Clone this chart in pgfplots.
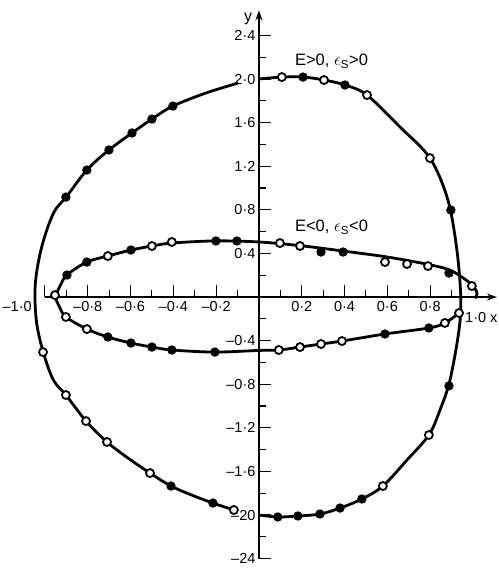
\documentclass[border=0pt]{standalone}
\usepackage{fontspec}
\setmainfont{Liberation Sans}
\usepackage{pgfplots}
\pgfplotsset{compat=1.18}
\usetikzlibrary{arrows.meta}

\begin{document}
\begin{tikzpicture}
\begin{axis}[
  x=214pt, y=109pt,
  axis lines=middle,
  xmin=-1.0, xmax=1.112, ymin=-2.4, ymax=2.63,
  clip=false,
  axis line style={line width=1.5pt, black},
  x axis line style={-{Stealth[length=10pt,width=7pt]}},
  y axis line style={-{Stealth[length=10pt,width=7pt]}},
  tick align=inside,
  major tick length=12pt, minor tick length=7pt,
  every tick/.style={line width=1.1pt, black},
  xtick={-1.0,-0.8,-0.6,-0.4,-0.2,0.2,0.4,0.6,0.8},
  xticklabels={,–0·8,–0·6,–0·4,–0·2,0·2,0·4,0·6,0·8},
  minor xtick={-0.9,-0.7,-0.5,-0.3,-0.1,0.1,0.3,0.5,0.7,0.9},
  ytick={-2.4,-2.0,-1.6,-1.2,-0.8,-0.4,0.4,0.8,1.2,1.6,2.0,2.4},
  yticklabels={–24,–20,–1·6,–1·2,–0·8,–0·4,0·4,0·8,1·2,1·6,2·0,2·4},
  minor ytick={-2.2,-1.8,-1.4,-1.0,-0.6,-0.2,0.2,0.6,1.0,1.4,1.8,2.2},
  every tick label/.append style={font=\fontsize{14.5}{16}\selectfont},
  xticklabel style={yshift=-1pt},
]
% frame of the figure
\path (axis cs:-1.210,2.725) rectangle (axis cs:1.121,-2.486);

% ---- E>0 branch: fitted curve ----
\addplot[line width=2.8pt, smooth, tension=0.55] coordinates {
  (-0.098,1.963) (-0.25,1.87) (-0.402,1.752) (-0.5,1.633) (-0.593,1.505)
  (-0.701,1.349) (-0.804,1.165) (-0.897,0.927) (-0.96,0.77) (-1.015,0.46)
  (-1.045,0.12) (-1.04,-0.22) (-1.008,-0.505) (-0.961,-0.76)
  (-0.902,-0.899) (-0.808,-1.138) (-0.710,-1.330) (-0.61,-1.48) (-0.509,-1.615)
  (-0.411,-1.734) (-0.31,-1.82) (-0.215,-1.890) (-0.117,-1.954)
};
\addplot[line width=2.8pt, smooth, tension=0.55] coordinates {
  (0,2.0) (0.107,2.018) (0.206,2.018) (0.304,1.991) (0.402,1.945)
  (0.505,1.853) (0.659,1.56) (0.799,1.275) (0.883,0.89) (0.925,0.431)
  (0.943,0.0) (0.935,-0.3) (0.893,-0.76) (0.846,-1.037) (0.794,-1.266)
  (0.692,-1.495) (0.579,-1.734) (0.481,-1.853) (0.379,-1.936) (0.285,-1.991)
  (0.182,-2.009) (0.088,-2.018) (0,-2.0)
};

% ---- E<0 branch: fitted curve ----
\addplot[line width=2.8pt, smooth, tension=0.55] coordinates {
  (-0.953,0.0) (-0.93,0.1) (-0.897,0.202) (-0.804,0.321) (-0.706,0.376)
  (-0.598,0.431) (-0.5,0.468) (-0.407,0.495) (-0.2,0.515) (0,0.505)
  (0.2,0.47) (0.4,0.42) (0.6,0.367) (0.8,0.295) (0.9,0.24) (0.985,0.13)
  (1.015,0.06) (1.018,0.015) (1.008,-0.01)
};
\addplot[line width=2.8pt, smooth, tension=0.55] coordinates {
  (-0.953,0.0) (-0.93,-0.1) (-0.902,-0.183) (-0.804,-0.294) (-0.706,-0.367)
  (-0.598,-0.422) (-0.5,-0.459) (-0.407,-0.486) (-0.206,-0.505) (0,-0.49)
  (0.093,-0.486) (0.192,-0.459) (0.29,-0.431) (0.388,-0.404) (0.589,-0.339)
  (0.794,-0.284) (0.869,-0.238) (0.935,-0.147)
};

% ---- measured points, solid ----
\addplot[only marks, mark=*, mark size=4pt,
  mark options={draw=black, fill=black, line width=1.3pt}] coordinates {
  (-0.902,0.917) (-0.804,1.165) (-0.701,1.349) (-0.593,1.505) (-0.5,1.633)
  (-0.402,1.752) (-0.411,-1.734) (-0.215,-1.890)
  (0.206,2.018) (0.402,1.945) (0.897,0.798)
  (0.888,-0.815) (0.481,-1.853) (0.379,-1.936) (0.285,-1.991) (0.182,-2.009)
  (0.088,-2.018)
  (-0.897,0.202) (-0.804,0.321) (-0.598,0.431) (-0.201,0.514) (-0.103,0.514)
  (0.290,0.413) (0.393,0.413) (0.888,0.220)
  (-0.706,-0.367) (-0.598,-0.422) (-0.5,-0.459) (-0.407,-0.486) (-0.206,-0.505)
  (0.589,-0.339) (0.794,-0.284)
};
% ---- measured points, open ----
\addplot[only marks, mark=*, mark size=4pt,
  mark options={draw=black, fill=white, line width=1.8pt}] coordinates {
  (-1.009,-0.505) (-0.902,-0.899) (-0.808,-1.138) (-0.710,-1.330)
  (-0.509,-1.615) (-0.117,-1.954)
  (0.107,2.018) (0.304,1.991) (0.505,1.853) (0.799,1.275)
  (0.794,-1.266) (0.579,-1.734)
  (-0.953,0.018) (-0.706,0.376) (-0.5,0.468) (-0.407,0.505) (0.098,0.495)
  (0.192,0.468) (0.589,0.321) (0.692,0.303) (0.790,0.284) (0.995,0.101)
  (-0.902,-0.183) (-0.804,-0.294) (0.093,-0.486) (0.192,-0.459) (0.290,-0.431)
  (0.388,-0.404) (0.869,-0.238) (0.935,-0.147)
};

% axis names and end labels
\node[inner sep=0pt, font=\fontsize{16}{18}\selectfont] at (axis cs:-0.05,2.55) {y};
\node[anchor=east, inner sep=0pt, font=\fontsize{14.5}{16}\selectfont]
  at (axis cs:-1.061,-0.09) {–1·0};
\node[anchor=west, inner sep=0pt, font=\fontsize{14.5}{16}\selectfont]
  at (axis cs:0.963,-0.185) {1·0 x};

% branch labels
\node[anchor=west, inner sep=0pt, font=\fontsize{16.5}{18}\selectfont]
  at (axis cs:0.168,2.16) {E>0, $\epsilon$\textsubscript{S}>0};
\node[anchor=west, inner sep=0pt, font=\fontsize{16.5}{18}\selectfont]
  at (axis cs:0.168,0.64) {E<0, $\epsilon$\textsubscript{S}<0};
\end{axis}
\end{tikzpicture}
\end{document}
